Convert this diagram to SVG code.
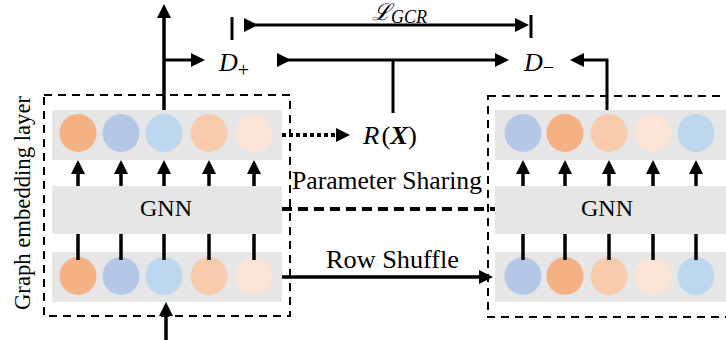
<svg xmlns="http://www.w3.org/2000/svg" width="726" height="340" viewBox="0 0 726 340">
  <style>
    .frame { fill: none; stroke: #000; stroke-width: 2; stroke-dasharray: 8 6; }
    .row { fill: #e6e6e6; }
    .c1 { fill: #f4b183; }
    .c2 { fill: #b4c7e7; }
    .c3 { fill: #bdd7ee; }
    .c4 { fill: #f8cbad; }
    .c5 { fill: #fbe5d6; }
    .link { fill: none; stroke: #000; stroke-width: 3.5; }
    .thin { fill: none; stroke: #000; stroke-width: 3; }
    .lbl { font-family: "Liberation Serif", "Times New Roman", serif; fill: #000; }
    .math { font-family: "Liberation Serif", "DejaVu Serif", serif; font-style: italic; fill: #000; }
  </style>
  <defs>
    <marker id="head" markerUnits="userSpaceOnUse" markerWidth="16" markerHeight="16" viewBox="0 -8 16 16" refX="2" refY="0" orient="auto">
      <path d="M0,-7 L14,0 L0,7 z" fill="#000"/>
    </marker>
  </defs>

  <!-- left encoder -->
  <g id="left-encoder">
    <rect class="frame" x="44" y="95" width="246" height="221"/>
    <rect class="row" x="52" y="110" width="230" height="50"/>
    <rect class="row" x="52" y="186" width="230" height="48"/>
    <rect class="row" x="52" y="252" width="230" height="50"/>
    <text class="lbl" x="166" y="216" font-size="23" text-anchor="middle" textLength="52" lengthAdjust="spacingAndGlyphs">GNN</text>
    <ellipse class="c1" cx="78" cy="133" rx="18.5" ry="19"/>
    <ellipse class="c2" cx="121" cy="133" rx="18.5" ry="19"/>
    <ellipse class="c3" cx="164" cy="133" rx="18.5" ry="19"/>
    <ellipse class="c4" cx="209" cy="133" rx="18.5" ry="19"/>
    <ellipse class="c5" cx="254" cy="133" rx="18.5" ry="19"/>
    <ellipse class="c1" cx="78" cy="276" rx="18.5" ry="19"/>
    <ellipse class="c2" cx="121" cy="276" rx="18.5" ry="19"/>
    <ellipse class="c3" cx="164" cy="276" rx="18.5" ry="19"/>
    <ellipse class="c4" cx="209" cy="276" rx="18.5" ry="19"/>
    <ellipse class="c5" cx="254" cy="276" rx="18.5" ry="19"/>
  </g>

  <!-- right encoder (shuffled rows) -->
  <g id="right-encoder">
    <rect class="frame" x="488" y="96" width="250" height="221"/>
    <rect class="row" x="495" y="110" width="231" height="50"/>
    <rect class="row" x="495" y="186" width="231" height="48"/>
    <rect class="row" x="495" y="252" width="231" height="50"/>
    <text class="lbl" x="607" y="216" font-size="23" text-anchor="middle" textLength="52" lengthAdjust="spacingAndGlyphs">GNN</text>
    <ellipse class="c2" cx="523" cy="133" rx="18.5" ry="19"/>
    <ellipse class="c1" cx="565" cy="133" rx="18.5" ry="19"/>
    <ellipse class="c4" cx="609" cy="133" rx="18.5" ry="19"/>
    <ellipse class="c5" cx="653" cy="133" rx="18.5" ry="19"/>
    <ellipse class="c3" cx="696" cy="133" rx="18.5" ry="19"/>
    <ellipse class="c2" cx="523" cy="276" rx="18.5" ry="19"/>
    <ellipse class="c1" cx="565" cy="276" rx="18.5" ry="19"/>
    <ellipse class="c4" cx="609" cy="276" rx="18.5" ry="19"/>
    <ellipse class="c5" cx="653" cy="276" rx="18.5" ry="19"/>
    <ellipse class="c3" cx="696" cy="276" rx="18.5" ry="19"/>
  </g>

  <!-- labels -->
  <g id="side-label">
    <text class="lbl" transform="translate(30,203) rotate(-90)" font-size="23" text-anchor="middle" textLength="214" lengthAdjust="spacingAndGlyphs">Graph embedding layer</text>
  </g>
  <g id="d-plus">
    <text class="math" x="219" y="71" font-size="26">D<tspan font-style="normal" font-size="20" dy="6">+</tspan></text>
  </g>
  <g id="d-minus">
    <text class="math" x="524" y="71" font-size="26">D<tspan font-style="normal" font-size="20" dy="3">−</tspan></text>
  </g>
  <g id="loss">
    <text x="372" y="20" font-size="22"><tspan font-family="DejaVu Serif, serif" font-style="italic" font-size="23">ℒ</tspan><tspan class="math" font-size="18" dy="3">GCR</tspan></text>
  </g>
  <g id="readout">
    <text class="math" x="363" y="144" font-size="25" textLength="54" lengthAdjust="spacingAndGlyphs">R<tspan font-style="normal" dx="2">(</tspan><tspan font-weight="bold">X</tspan><tspan font-style="normal">)</tspan></text>
  </g>
  <text class="lbl" x="292" y="189" font-size="25" textLength="190" lengthAdjust="spacingAndGlyphs">Parameter Sharing</text>
  <text class="lbl" x="326" y="268" font-size="25" textLength="133" lengthAdjust="spacingAndGlyphs">Row Shuffle</text>

  <!-- connectors -->
  <g id="connectors">
    <!-- node-wise links through the GNN, left -->
    <g class="link">
      <line x1="78" y1="186" x2="78" y2="172" marker-end="url(#head)"/>
      <line x1="121" y1="186" x2="121" y2="172" marker-end="url(#head)"/>
      <line x1="164" y1="186" x2="164" y2="172" marker-end="url(#head)"/>
      <line x1="209" y1="186" x2="209" y2="172" marker-end="url(#head)"/>
      <line x1="254" y1="186" x2="254" y2="172" marker-end="url(#head)"/>
      <line x1="78" y1="234" x2="78" y2="260"/>
      <line x1="121" y1="234" x2="121" y2="260"/>
      <line x1="164" y1="234" x2="164" y2="260"/>
      <line x1="209" y1="234" x2="209" y2="260"/>
      <line x1="254" y1="234" x2="254" y2="260"/>
    </g>
    <!-- node-wise links through the GNN, right -->
    <g class="link">
      <line x1="523" y1="186" x2="523" y2="172" marker-end="url(#head)"/>
      <line x1="565" y1="186" x2="565" y2="172" marker-end="url(#head)"/>
      <line x1="609" y1="186" x2="609" y2="172" marker-end="url(#head)"/>
      <line x1="653" y1="186" x2="653" y2="172" marker-end="url(#head)"/>
      <line x1="696" y1="186" x2="696" y2="172" marker-end="url(#head)"/>
      <line x1="523" y1="234" x2="523" y2="260"/>
      <line x1="565" y1="234" x2="565" y2="260"/>
      <line x1="609" y1="234" x2="609" y2="260"/>
      <line x1="653" y1="234" x2="653" y2="260"/>
      <line x1="696" y1="234" x2="696" y2="260"/>
    </g>

    <!-- input into left encoder -->
    <line class="link" x1="166" y1="340" x2="166" y2="314" marker-end="url(#head)"/>
    <!-- output of left encoder -->
    <line class="link" x1="164" y1="110" x2="164" y2="16" marker-end="url(#head)"/>
    <line class="thin" x1="164" y1="60" x2="193" y2="60" marker-end="url(#head)"/>
    <!-- output of right encoder -->
    <polyline class="thin" points="607,110 607,60 582,60" marker-end="url(#head)"/>

    <!-- loss span -->
    <line class="thin" x1="232" y1="17" x2="232" y2="40"/>
    <line class="thin" x1="531" y1="15" x2="531" y2="38"/>
    <line class="thin" x1="246" y1="25" x2="517" y2="25" marker-start="url(#head)" marker-end="url(#head)"/>

    <!-- discriminator link -->
    <line class="thin" x1="279" y1="60" x2="497" y2="60" marker-start="url(#head)" marker-end="url(#head)"/>
    <line class="thin" x1="393" y1="60" x2="393" y2="113"/>

    <!-- readout -->
    <line x1="282" y1="135" x2="338" y2="135" stroke="#000" stroke-width="4" stroke-dasharray="4 3" marker-end="url(#head)"/>
    <!-- parameter sharing -->
    <line x1="282" y1="209" x2="495" y2="209" stroke="#000" stroke-width="4" stroke-dasharray="10 6"/>
    <!-- row shuffle -->
    <line class="link" x1="282" y1="277" x2="481" y2="277" marker-end="url(#head)"/>
  </g>
</svg>
